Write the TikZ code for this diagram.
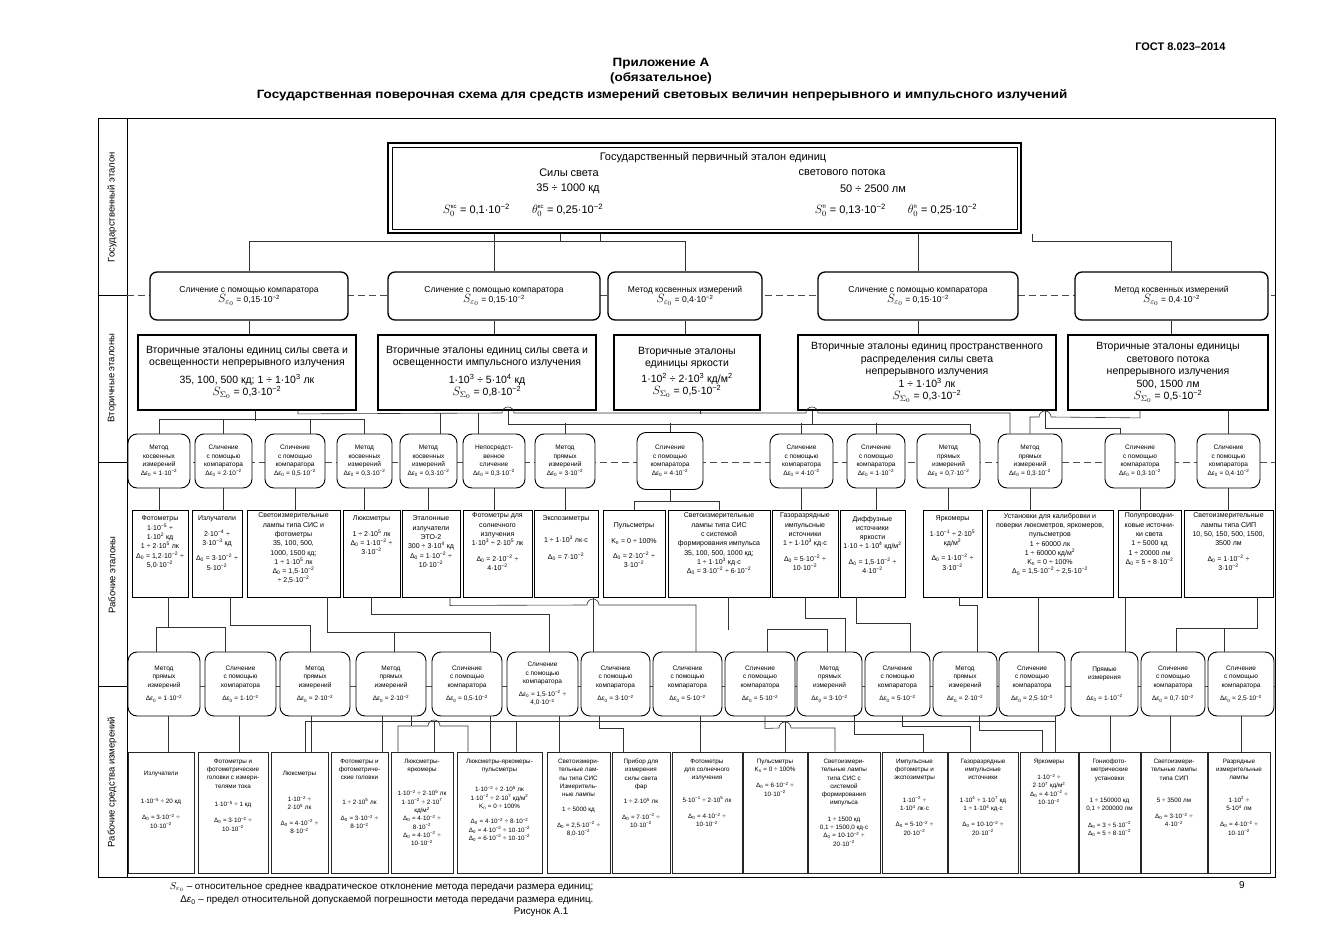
\documentclass[tikz,border=0pt]{standalone}
\usepackage{amsmath}
\usepackage{graphicx}
\usepackage{fontspec}
\setmainfont{Liberation Sans}
\newcommand{\pw}[1]{\textsuperscript{#1}}
\newcommand{\dez}{Δ\textit{ε}\textsubscript{0}}
\newcommand{\dnul}{Δ\textsubscript{0}}
\newcommand{\Sbig}[1]{{\fontsize{12}{12}\selectfont\(S_{#1}\)}}
\newcommand{\Sprim}[2]{{\fontsize{12}{12}\selectfont\(#1_0^{\text{\fontsize{6}{6}\selectfont #2}}\)}}
\newcommand{\tb}[3]{\parbox[c][#2pt][t]{#1pt}{\centering\vspace*{3pt}#3}}
\tikzset{
  ln/.style={line width=0.6pt, draw=black!80},
  prim/.style={draw, line width=2.2pt, minimum width=633pt, minimum height=90pt},
  mtop/.style={draw, rounded corners=7pt, line width=1.3pt, fill=white, align=center,
    font=\fontsize{8.5}{10}\selectfont, minimum height=48pt, inner sep=1pt},
  vtor/.style={draw, line width=1.8pt, fill=white, align=center,
    font=\fontsize{10.5}{12.5}\selectfont, minimum height=75pt, inner sep=1pt},
  mlow/.style={draw, rounded corners=9pt, line width=0.9pt, fill=white, align=center,
    font=\fontsize{6.5}{8.5}\selectfont, minimum height=54pt, inner sep=1pt},
  mbot/.style={mlow, minimum height=64pt},
  wst/.style={draw, line width=0.9pt, fill=white, inner sep=0pt, font=\fontsize{7}{9.3}\selectfont},
  wsi/.style={draw, line width=1pt, draw=black!85, fill=white, inner sep=0pt, font=\fontsize{6.3}{8.3}\selectfont},
  band/.style={line width=0.6pt, dash pattern=on 7pt off 4pt, draw=black!70},
  bandlabel/.style={rotate=90, font=\fontsize{9.5}{11}\selectfont},
  head/.style={font=\bfseries\fontsize{12}{14}\selectfont},
}
\begin{document}
\begin{tikzpicture}[x=1pt,y=-1pt]
\useasboundingbox (0,0) rectangle (1323,936);
% header
\node[anchor=east, font=\bfseries\fontsize{11}{13}\selectfont] (gost) at (1229,47) {ГОСТ 8.023–2014};
\node[head] (pril) at (661,64) {\scalebox{1.12}[1]{Приложение А}};
\node[head] (obyaz) at (661,78) {\scalebox{1.12}[1]{(обязательное)}};
\node[head] (title) at (662,95) {\scalebox{1.12}[1]{Государственная поверочная схема для средств измерений световых величин непрерывного и импульсного излучений}};
% frame and bands
\draw[line width=0.9pt] (98,118) rectangle (1275,877);
\draw[line width=0.9pt] (127,118) -- (127,877);
\draw[line width=0.8pt] (98,295) -- (127,295);
\draw[line width=0.8pt] (98,462) -- (127,462);
\draw[line width=0.8pt] (98,686) -- (127,686);
\draw[band] (127,295) -- (1275,295);
\draw[band] (127,462) -- (1275,462);
\draw[line width=0.5pt, draw=black!70] (127,686) -- (1275,686);
\node[bandlabel] (lab1) at (112,207) {Государственный эталон};
\node[bandlabel] (lab2) at (112,378) {Вторичные эталоны};
\node[bandlabel] (lab3) at (112,575) {Рабочие эталоны};
\node[bandlabel] (lab4) at (112,782) {Рабочие средства измерений};
% primary standard
\node[prim] (P) at (704.5,188) {};
\draw[line width=0.6pt] ([shift={(5,5)}]P.north west) rectangle ([shift={(-5,-5)}]P.south east);
\node[font=\fontsize{11}{13}\selectfont] (pt1) at (713,158) {Государственный первичный эталон единиц};
\node[font=\fontsize{11}{13}\selectfont] (pt2) at (569,173) {Силы света};
\node[font=\fontsize{11}{13}\selectfont] (pt3) at (842,173) {светового потока};
\node[font=\fontsize{11}{13}\selectfont] (pt4) at (568,189) {35 ÷ 1000 кд};
\node[font=\fontsize{11}{13}\selectfont] (pt5) at (873,189) {50 ÷ 2500 лм};
\node[font=\fontsize{11}{13}\selectfont] (pt6) at (523,210) {\Sprim{S}{кс} = 0,1·10\pw{−2}\qquad\Sprim{\theta}{кс} = 0,25·10\pw{−2}};
\node[font=\fontsize{11}{13}\selectfont] (pt7) at (896,210) {\Sprim{S}{п} = 0,13·10\pw{−2}\qquad\Sprim{\theta}{п} = 0,25·10\pw{−2}};
% transfer methods to secondary standards
\node[mtop, minimum width=198pt] (M1) at (249,296) {Сличение с помощью компаратора\\\Sbig{\varepsilon_0} = 0,15·10\pw{−2}};
\node[mtop, minimum width=212pt] (M2) at (494,296) {Сличение с помощью компаратора\\\Sbig{\varepsilon_0} = 0,15·10\pw{−2}};
\node[mtop, minimum width=154pt] (M3) at (685,296) {Метод косвенных измерений\\\Sbig{\varepsilon_0} = 0,4·10\pw{−2}};
\node[mtop, minimum width=200pt] (M4) at (918,296) {Сличение с помощью компаратора\\\Sbig{\varepsilon_0} = 0,15·10\pw{−2}};
\node[mtop, minimum width=193pt] (M5) at (1171.5,296) {Метод косвенных измерений\\\Sbig{\varepsilon_0} = 0,4·10\pw{−2}};
% secondary standards
\node[vtor, minimum width=218pt] (V1) at (247,372.5) {Вторичные эталоны единиц силы света и\\освещенности непрерывного излучения\\[5pt]35, 100, 500 кд; 1 ÷ 1·10\pw{3} лк\\\Sbig{\Sigma_0} = 0,3·10\pw{−2}};
\node[vtor, minimum width=218pt] (V2) at (487,372.5) {Вторичные эталоны единиц силы света и\\освещенности импульсного излучения\\[5pt]1·10\pw{3} ÷ 5·10\pw{4} кд\\\Sbig{\Sigma_0} = 0,8·10\pw{−2}};
\node[vtor, minimum width=146pt] (V3) at (687,372.5) {Вторичные эталоны\\единицы яркости\\[3pt]1·10\pw{2} ÷ 2·10\pw{3} кд/м\pw{2}\\\Sbig{\Sigma_0} = 0,5·10\pw{−2}};
\node[vtor, minimum width=258pt] (V4) at (927,372.5) {Вторичные эталоны единиц пространственного\\распределения силы света\\непрерывного излучения\\1 ÷ 1·10\pw{3} лк\\\Sbig{\Sigma_0} = 0,3·10\pw{−2}};
\node[vtor, minimum width=200pt] (V5) at (1168,372.5) {Вторичные эталоны единицы\\светового потока\\непрерывного излучения\\500, 1500 лм\\\Sbig{\Sigma_0} = 0,5·10\pw{−2}};
% transfer methods to working standards
\node[mlow, minimum width=62pt] (a1) at (159,461) {Метод\\косвенных\\измерений\\\dez{} = 1·10\pw{−2}};
\node[mlow, minimum width=57pt] (a2) at (223.5,461) {Сличение\\с помощью\\компаратора\\\dez{} = 2·10\pw{−2}};
\node[mlow, minimum width=60pt] (a3) at (295,461) {Сличение\\с помощью\\компаратора\\\dez{} = 0,5·10\pw{−2}};
\node[mlow, minimum width=55pt] (a4) at (364.5,461) {Метод\\косвенных\\измерений\\\dez{} = 0,3·10\pw{−2}};
\node[mlow, minimum width=57pt] (a5) at (428.5,461) {Метод\\косвенных\\измерений\\\dez{} = 0,3·10\pw{−2}};
\node[mlow, minimum width=62pt] (a6) at (494,461) {Непосредст-\\венное\\сличение\\\dez{} = 0,3·10\pw{−2}};
\node[mlow, minimum width=60pt] (a7) at (565,461) {Метод\\прямых\\измерений\\\dez{} = 3·10\pw{−2}};
\node[mlow, minimum width=66pt, minimum height=57pt] (a8) at (670,461) {Сличение\\с помощью\\компаратора\\\dez{} = 4·10\pw{−2}};
\node[mlow, minimum width=63pt] (a9) at (801.5,461) {Сличение\\с помощью\\компаратора\\\dez{} = 4·10\pw{−2}};
\node[mlow, minimum width=58pt] (a10) at (876,461) {Сличение\\с помощью\\компаратора\\\dez{} = 1·10\pw{−2}};
\node[mlow, minimum width=63pt] (a11) at (948.5,461) {Метод\\прямых\\измерений\\\dez{} = 0,7·10\pw{−2}};
\node[mlow, minimum width=64pt] (a12) at (1030,461) {Метод\\прямых\\измерений\\\dez{} = 0,3·10\pw{−2}};
\node[mlow, minimum width=70pt] (a13) at (1140,461) {Сличение\\с помощью\\компаратора\\\dez{} = 0,3·10\pw{−2}};
\node[mlow, minimum width=63pt] (a14) at (1228.5,461) {Сличение\\с помощью\\компаратора\\\dez{} = 0,4·10\pw{−2}};
% working standards
\node[wst] (b1) at (160,553.5) {\tb{56}{87}{\vspace*{3pt}Фотометры\\1·10\pw{−5} ÷\\1·10\pw{2} кд\\1 ÷ 2·10\pw{5} лк\\\dnul{} = 1,2·10\pw{−2} ÷\\5,0·10\pw{−2}}};
\node[wst] (b2) at (217,553.5) {\tb{50}{87}{\vspace*{3pt}Излучатели\\[6pt]2·10\pw{−4} ÷\\3·10\pw{−3} кд\\[6pt]\dnul{} = 3·10\pw{−2} ÷\\5·10\pw{−2}}};
\node[wst] (b3) at (293.5,553.5) {\tb{93}{87}{Светоизмерительные\\лампы типа СИС и\\фотометры\\35, 100, 500,\\1000, 1500 кд;\\1 ÷ 1·10\pw{5} лк\\\dnul{} = 1,5·10\pw{−2}\\÷ 2,5·10\pw{−2}}};
\node[wst] (b4) at (371.5,553.5) {\tb{57}{87}{\vspace*{3pt}Люксметры\\[6pt]1 ÷ 2·10\pw{5} лк\\\dnul{} = 1·10\pw{−2} ÷\\3·10\pw{−2}}};
\node[wst] (b5) at (431,553.5) {\tb{58}{87}{\vspace*{3pt}Эталонные\\излучатели\\ЭТО-2\\300 ÷ 3·10\pw{4} кд\\\dnul{} = 1·10\pw{−2} ÷\\10·10\pw{−2}}};
\node[wst] (b6) at (497.5,553.5) {\tb{69}{87}{Фотометры для\\солнечного\\излучения\\1·10\pw{3} ÷ 2·10\pw{5} лк\\[6pt]\dnul{} = 2·10\pw{−2} ÷\\4·10\pw{−2}}};
\node[wst] (b7) at (566,553.5) {\tb{64}{87}{\vspace*{3pt}Экспозиметры\\[12pt]1 ÷ 1·10\pw{3} лк·с\\[8pt]\dnul{} = 7·10\pw{−2}}};
\node[wst] (b8) at (634,553.5) {\tb{62}{87}{\vspace*{10pt}Пульсметры\\[6pt]K\textsubscript{п} = 0 ÷ 100\%\\[6pt]\dnul{} = 2·10\pw{−2} ÷\\3·10\pw{−2}}};
\node[wst] (b9) at (719,553.5) {\tb{102}{87}{Светоизмерительные\\лампы типа СИС\\с системой\\формирования импульса\\35, 100, 500, 1000 кд;\\1 ÷ 1·10\pw{3} кд·с\\\dnul{} = 3·10\pw{−2} ÷ 6·10\pw{−2}}};
\node[wst] (b10) at (805,553.5) {\tb{66}{87}{Газоразрядные\\импульсные\\источники\\1 ÷ 1·10\pw{3} кд·с\\[6pt]\dnul{} = 5·10\pw{−2} ÷\\10·10\pw{−2}}};
\node[wst] (b11) at (872.5,553.5) {\tb{65}{87}{\vspace*{3pt}Диффузные\\источники\\яркости\\1·10 ÷ 1·10\pw{4} кд/м\pw{2}\\[6pt]\dnul{} = 1,5·10\pw{−2} ÷\\4·10\pw{−2}}};
\node[wst] (b12) at (952.5,553.5) {\tb{59}{87}{\vspace*{3pt}Яркомеры\\[6pt]1·10\pw{−1} ÷ 2·10\pw{5}\\кд/м\pw{2}\\[6pt]\dnul{} = 1·10\pw{−2} ÷\\3·10\pw{−2}}};
\node[wst] (b13) at (1050,553.5) {\tb{126}{87}{Установки для калибровки и\\поверки люксметров, яркомеров,\\пульсметров\\1 ÷ 60000 лк\\1 ÷ 60000 кд/м\pw{2}\\K\textsubscript{п} = 0 ÷ 100\%\\\dnul{} = 1,5·10\pw{−2} ÷ 2,5·10\pw{−2}}};
\node[wst] (b14) at (1149.5,553.5) {\tb{63}{87}{Полупроводни-\\ковые источни-\\ки света\\1 ÷ 5000 кд\\1 ÷ 20000 лм\\\dnul{} = 5 ÷ 8·10\pw{−2}}};
\node[wst] (b15) at (1228.5,553.5) {\tb{89}{87}{Светоизмерительные\\лампы типа СИП\\10, 50, 150, 500, 1500,\\3500 лм\\[6pt]\dnul{} = 1·10\pw{−2} ÷\\3·10\pw{−2}}};
% transfer methods to working instruments
\node[mbot, minimum width=72pt] (c1) at (164,684) {Метод\\прямых\\измерений\\[5pt]\dez{} = 1·10\pw{−2}};
\node[mbot, minimum width=71pt] (c2) at (240.5,684) {Сличение\\с помощью\\компаратора\\[5pt]\dez{} = 1·10\pw{−2}};
\node[mbot, minimum width=70pt] (c3) at (315,684) {Метод\\прямых\\измерений\\[5pt]\dez{} = 2·10\pw{−2}};
\node[mbot, minimum width=70pt] (c4) at (391,684) {Метод\\прямых\\измерений\\[5pt]\dez{} = 2·10\pw{−2}};
\node[mbot, minimum width=70pt] (c5) at (467,684) {Сличение\\с помощью\\компаратора\\[5pt]\dez{} = 0,5·10\pw{−2}};
\node[mbot, minimum width=71pt] (c6) at (542.5,684) {Сличение\\с помощью\\компаратора\\[4pt]\dez{} = 1,5·10\pw{−2} ÷\\4,0·10\pw{−2}};
\node[mbot, minimum width=69pt] (c7) at (615.5,684) {Сличение\\с помощью\\компаратора\\[5pt]\dez{} = 3·10\pw{−2}};
\node[mbot, minimum width=69pt] (c8) at (687.5,684) {Сличение\\с помощью\\компаратора\\[5pt]\dez{} = 5·10\pw{−2}};
\node[mbot, minimum width=70pt] (c9) at (760,684) {Сличение\\с помощью\\компаратора\\[5pt]\dez{} = 5·10\pw{−2}};
\node[mbot, minimum width=65pt] (c10) at (829.5,684) {Метод\\прямых\\измерений\\[5pt]\dez{} = 3·10\pw{−2}};
\node[mbot, minimum width=65pt] (c11) at (897.5,684) {Сличение\\с помощью\\компаратора\\[5pt]\dez{} = 5·10\pw{−2}};
\node[mbot, minimum width=64pt] (c12) at (965,684) {Метод\\прямых\\измерений\\[5pt]\dez{} = 2·10\pw{−2}};
\node[mbot, minimum width=66pt] (c13) at (1032,684) {Сличение\\с помощью\\компаратора\\[5pt]\dez{} = 2,5·10\pw{−2}};
\node[mbot, minimum width=67pt] (c14) at (1104.5,684) {Прямые\\измерения\\[12pt]\dez{} = 1·10\pw{−2}};
\node[mbot, minimum width=64pt] (c15) at (1173,684) {Сличение\\с помощью\\компаратора\\[5pt]\dez{} = 0,7·10\pw{−2}};
\node[mbot, minimum width=66pt] (c16) at (1241,684) {Сличение\\с помощью\\компаратора\\[5pt]\dez{} = 2,5·10\pw{−2}};
% working measuring instruments
\node[wsi] (d1) at (161,812.5) {\tb{66}{121}{\vspace*{16pt}Излучатели\\[20pt]1·10\pw{−5} ÷ 20 кд\\[8pt]\dnul{} = 3·10\pw{−2} ÷\\10·10\pw{−2}}};
\node[wsi] (d2) at (233,812.5) {\tb{70}{121}{\vspace*{4pt}Фотометры и\\фотометрические\\головки с измери-\\телями тока\\[10pt]1·10\pw{−5} ÷ 1 кд\\[8pt]\dnul{} = 3·10\pw{−2} ÷\\10·10\pw{−2}}};
\node[wsi] (d3) at (299.5,812.5) {\tb{57}{121}{\vspace*{16pt}Люксметры\\[18pt]1·10\pw{−2} ÷\\2·10\pw{5} лк\\[7pt]\dnul{} = 4·10\pw{−2} ÷\\8·10\pw{−2}}};
\node[wsi] (d4) at (359.5,812.5) {\tb{57}{121}{\vspace*{4pt}Фотометры и\\фотометриче-\\ские головки\\[16pt]1 ÷ 2·10\pw{5} лк\\[8pt]\dnul{} = 3·10\pw{−2} ÷\\8·10\pw{−2}}};
\node[wsi] (d5) at (422,812.5) {\tb{62}{121}{\vspace*{4pt}Люксметры-\\яркомеры\\[16pt]1·10\pw{−2} ÷ 2·10\pw{5} лк\\1·10\pw{−2} ÷ 2·10\pw{7}\\кд/м\pw{2}\\\dnul{} = 4·10\pw{−2} ÷\\8·10\pw{−2}\\\dnul{} = 4·10\pw{−2} ÷\\10·10\pw{−2}}};
\node[wsi] (d6) at (499.5,812.5) {\tb{85}{121}{\vspace*{4pt}Люксметры-яркомеры-\\пульсметры\\[12pt]1·10\pw{−2} ÷ 2·10\pw{5} лк\\1·10\pw{−2} ÷ 2·10\pw{7} кд/м\pw{2}\\K\textsubscript{п} = 0 ÷ 100\%\\[7pt]\dnul{} = 4·10\pw{−2} ÷ 8·10\pw{−2}\\\dnul{} = 4·10\pw{−2} ÷ 10·10\pw{−2}\\\dnul{} = 6·10\pw{−2} ÷ 10·10\pw{−2}}};
\node[wsi] (d7) at (578.5,812.5) {\tb{63}{121}{\vspace*{4pt}Светоизмери-\\тельные лам-\\пы типа СИС\\Измеритель-\\ные лампы\\[7pt]1 ÷ 5000 кд\\[7pt]\dnul{} = 2,5·10\pw{−2} ÷\\8,0·10\pw{−2}}};
\node[wsi] (d8) at (641,812.5) {\tb{58}{121}{\vspace*{4pt}Прибор для\\измерения\\силы света\\фар\\[7pt]1 ÷ 2·10\pw{5} лк\\[7pt]\dnul{} = 7·10\pw{−2} ÷\\10·10\pw{−2}}};
\node[wsi] (d9) at (707,812.5) {\tb{70}{121}{\vspace*{4pt}Фотометры\\для солнечного\\излучения\\[14pt]5·10\pw{−1} ÷ 2·10\pw{5} лк\\[8pt]\dnul{} = 4·10\pw{−2} ÷\\10·10\pw{−2}}};
\node[wsi] (d10) at (775,812.5) {\tb{64}{121}{\vspace*{4pt}Пульсметры\\K\textsubscript{п} = 0 ÷ 100\%\\[8pt]\dnul{} = 6·10\pw{−2} ÷\\10·10\pw{−2}}};
\node[wsi] (d11) at (844,812.5) {\tb{72}{121}{\vspace*{4pt}Светоизмери-\\тельные лампы\\типа СИС с\\системой\\формирования\\импульса\\[8pt]1 ÷ 1500 кд\\0,1 ÷ 1500,0 кд·с\\\dnul{} = 10·10\pw{−2} ÷\\20·10\pw{−2}}};
\node[wsi] (d12) at (914.5,812.5) {\tb{65}{121}{\vspace*{4pt}Импульсные\\фотометры и\\экспозиметры\\[14pt]1·10\pw{−2} ÷\\1·10\pw{4} лк·с\\[8pt]\dnul{} = 5·10\pw{−2} ÷\\20·10\pw{−2}}};
\node[wsi] (d13) at (983,812.5) {\tb{70}{121}{\vspace*{4pt}Газоразрядные\\импульсные\\источники\\[14pt]1·10\pw{4} ÷ 1·10\pw{7} кд\\1 ÷ 1·10\pw{4} кд·с\\[8pt]\dnul{} = 10·10\pw{−2} ÷\\20·10\pw{−2}}};
\node[wsi] (d14) at (1049,812.5) {\tb{58}{121}{\vspace*{4pt}Яркомеры\\[8pt]1·10\pw{−2} ÷\\2·10\pw{7} кд/м\pw{2}\\\dnul{} = 4·10\pw{−2} ÷\\10·10\pw{−2}}};
\node[wsi] (d15) at (1109.5,812.5) {\tb{61}{121}{\vspace*{4pt}Гониофото-\\метрические\\установки\\[14pt]1 ÷ 150000 кд\\0,1 ÷ 200000 лм\\[8pt]\dnul{} = 3 ÷ 5·10\pw{−2}\\\dnul{} = 5 ÷ 8·10\pw{−2}}};
\node[wsi] (d16) at (1174,812.5) {\tb{66}{121}{\vspace*{4pt}Светоизмери-\\тельные лампы\\типа СИП\\[14pt]5 ÷ 3500 лм\\[8pt]\dnul{} = 3·10\pw{−2} ÷\\4·10\pw{−2}}};
\node[wsi] (d17) at (1239,812.5) {\tb{62}{121}{\vspace*{4pt}Разрядные\\измерительные\\лампы\\[14pt]1·10\pw{2} ÷\\5·10\pw{4} лм\\[8pt]\dnul{} = 4·10\pw{−2} ÷\\10·10\pw{−2}}};
% primary -> methods
\draw[ln] ([xshift=-104.5pt]P.south) -- ++(0,7) -| (M1.north);
\draw[ln] (M2.north) -- (M2.north |- P.south);
\draw[ln] ([xshift=-144.5pt]P.south) -- ++(0,7) -| (M3.north);
\draw[ln] (M4.north) -- (M4.north |- P.south);
\draw[ln] ([xshift=327.5pt]P.south) -- ++(0,7) -| (M5.north);
% methods -> secondary
\draw[ln] (M1.south) -- (M1.south |- V1.north);
\draw[ln] (M2.south) -- (M2.south |- V2.north);
\draw[ln] (M3.south) -- (M3.south |- V3.north);
\draw[ln] (M4.south) -- (M4.south |- V4.north);
\draw[ln] (M5.south) -- (M5.south |- V5.north);
% secondary -> methods
\draw[ln] ([xshift=8pt]V1.south) -- ++(0,10);
\draw[ln] (a1.north) -- ++(0,-14) -| (a4.north);
\draw[ln] (a2.north) -- ++(0,-14);
\draw[ln] ([xshift=15pt]a3.north) -- ++(0,-14);
\draw[ln] ([xshift=51pt]V1.south) -- ++(0,3) -- (502,413) arc[start angle=180,end angle=360,radius=6]
  -- (806,413) arc[start angle=180,end angle=360,radius=6] -| ([xshift=-20pt]a12.north);
\draw[ln] ([xshift=11.5pt]a5.north) -- ++(0,-21);
\draw[ln] ([xshift=-16pt]a6.north) -- ++(0,-21);
\draw[ln] ([xshift=13pt]V3.south) -- ++(0,3);
\draw[ln] ([xshift=21pt]V2.south) -- ++(0,13) -| ([xshift=21.5pt]a11.north);
\draw[ln] (a7.north) -- ++(0,-11);
\draw[ln] (a8.north) -- ++(0,-9.5);
\draw[ln] (a9.north) -- ++(0,-11);
\draw[ln] (a10.north) -- ++(0,-11);
\draw[ln] ([xshift=-115pt]V4.south) -- ++(0,13);
\draw[ln] ([xshift=118pt]V4.south) -- ++(0,17) -| ([xshift=-20pt]a13.north);
\draw[ln] ([xshift=-28pt]V5.south) -- ++(0,7) -- (1051,417) arc[start angle=0,end angle=-180,radius=6] -| (a12.north);
\draw[ln] (a14.north) -- (a14.north |- V5.south);
% methods -> working standards
\draw[ln] (a1.south) -- (a1.south |- b1.north);
\draw[ln] (a2.south) -- (a2.south |- b2.north);
\draw[ln] (a3.south) -- (a3.south |- b3.north);
\draw[ln] (a4.south) -- (a4.south |- b4.north);
\draw[ln] (a5.south) -- (a5.south |- b5.north);
\draw[ln] (a6.south) -- (a6.south |- b6.north);
\draw[ln] (a7.south) -- (a7.south |- b7.north);
\draw[ln] (a8.south) -- ++(0,11) -| (b8.north);
\draw[ln] (a8.south) ++(0,11) -| (b9.north);
\draw[ln] (a9.south) -- (a9.south |- b10.north);
\draw[ln] (a10.south) -- (a10.south |- b11.north);
\draw[ln] (a11.south) -- (a11.south |- b12.north);
\draw[ln] (a12.south) -- (a12.south |- b13.north);
\draw[ln] (a13.south) -- (a13.south |- b14.north);
\draw[ln] (a14.south) -- (a14.south |- b15.north);
% working standards -> methods
\draw[ln] ([xshift=8pt]b1.south) -- ++(0,31);
\draw[ln] ([xshift=-8pt]c1.north) -- ++(0,-24) -| ([xshift=-15.5pt]c2.north);
\draw[ln] ([xshift=13pt]b2.south) -- ++(0,28) -| ([xshift=-5pt]c3.north);
\draw[ln] ([xshift=33.5pt]b3.south) -- ++(0,35) -| ([xshift=23pt]c5.north);
\draw[ln] ([xshift=3pt]c4.north) -- ++(0,-20);
\draw[ln] (b4.south) -- ++(0,17) -| ([xshift=6.5pt]c6.north);
\draw[ln] ([xshift=19pt]b5.south) -- ++(0,8) -- (587,605) arc[start angle=180,end angle=360,radius=6] -| ([xshift=8.5pt]c8.north);
\draw[ln] ([xshift=27pt]b7.south) -- ([xshift=27pt]b7.south |- c7.north);
\draw[ln] ([xshift=9pt]b9.south) -- ++(0,33);
\draw[ln] ([xshift=7pt]c9.north) -- ++(0,-22) -| ([xshift=-2.5pt]c10.north);
\draw[ln] (b10.south) -- ++(0,21) -| ([xshift=15.5pt]c10.north);
\draw[ln] ([xshift=-16.5pt]b11.south) -- ++(0,26) -| ([xshift=12.5pt]c11.north);
\draw[ln] ([xshift=6.5pt]b12.south) -- ++(0,8) -| ([xshift=12pt]c12.north);
\draw[ln] ([xshift=-12pt]b13.south) -- ([xshift=-12pt]b13.south |- c13.north);
\draw[ln] ([xshift=-24.5pt]b14.south) -- ([xshift=-24.5pt]b14.south |- c14.north);
\draw[ln] ([xshift=28.5pt]b15.south) -- ++(0,31) -| ([xshift=3pt]c15.north);
\draw[ln] ([xshift=-17pt]c16.north) -- ++(0,-24);
% methods -> working instruments
\draw[ln] ([xshift=4pt]c1.south) -- ([xshift=4pt]c1.south |- d1.north);
\draw[ln] ([xshift=-1.5pt]c2.south) -- ([xshift=-1.5pt]c2.south |- d2.north);
\draw[ln] ([xshift=-4pt]c3.south) -- ([xshift=-4pt]c3.south |- d3.north);
\draw[ln] ([xshift=-9pt]c4.south) -- ([xshift=-9pt]c4.south |- d4.north);
\draw[ln] ([xshift=20pt]c4.south) -- ++(0,10);
\draw[ln] ([xshift=-24pt]d5.north) |- (428,726) arc[start angle=180,end angle=360,radius=6] -| ([xshift=-31.5pt]d6.north);
\draw[ln] ([xshift=23pt]c5.south) -- ([xshift=23pt]c5.south |- d6.north);
\draw[ln] ([xshift=16.5pt]c6.south) -- ([xshift=16.5pt]c6.south |- d7.north);
\draw[ln] ([xshift=-16.5pt]c7.south) -- ++(0,12) -| ([xshift=-18pt]d8.north);
\draw[ln] ([xshift=12.5pt]c8.south) -- ([xshift=12.5pt]c8.south |- d9.north);
\draw[ln] ([xshift=5pt]c9.south) -- ++(0,12) -- (779,728) arc[start angle=180,end angle=360,radius=6] -| ([xshift=-9pt]d11.north);
\draw[ln] ([xshift=24.5pt]c10.south) -- ++(0,18) -| ([xshift=8.5pt]d12.north);
\draw[ln] ([xshift=4.5pt]c11.south) -- ++(0,10) -| ([xshift=-13pt]d13.north);
\draw[ln] ([xshift=14pt]c12.south) -- ++(0,14) -| ([xshift=-7pt]d14.north);
\draw[ln] ([xshift=23pt]c13.south) -- ([xshift=23pt]c13.south |- d14.north);
\draw[ln] ([xshift=23pt]c13.south) ++(0,5) -| ([xshift=5.5pt]d3.north);
\draw[ln] ([xshift=12pt]d5.north) -- ++(0,-31);
\draw[ln] ([xshift=16.5pt]d6.north) -- ++(0,-31);
\draw[ln] ([xshift=10pt]d10.north) -- ++(0,-31);
\draw[ln] ([xshift=5.5pt]c14.south) -- ([xshift=5.5pt]c14.south |- d15.north);
\draw[ln] ([xshift=-3pt]c15.south) -- ([xshift=-3pt]c15.south |- d16.north);
\draw[ln] (c16.south) -- (c16.south |- d17.north);
% footer
\node[anchor=east, font=\fontsize{9.8}{11}\selectfont] (f1) at (597,887) {\(S_{\varepsilon_0}\) – относительное среднее квадратическое отклонение метода передачи размера единиц;};
\node[anchor=east, font=\fontsize{9.8}{11}\selectfont] (f2) at (597,900) {\dez{} – предел относительной допускаемой погрешности метода передачи размера единиц.};
\node[font=\fontsize{9.8}{11}\selectfont] (f3) at (541,912) {Рисунок А.1};
\node[font=\fontsize{10}{12}\selectfont] (pg) at (1242,885) {9};
\end{tikzpicture}
\end{document}
